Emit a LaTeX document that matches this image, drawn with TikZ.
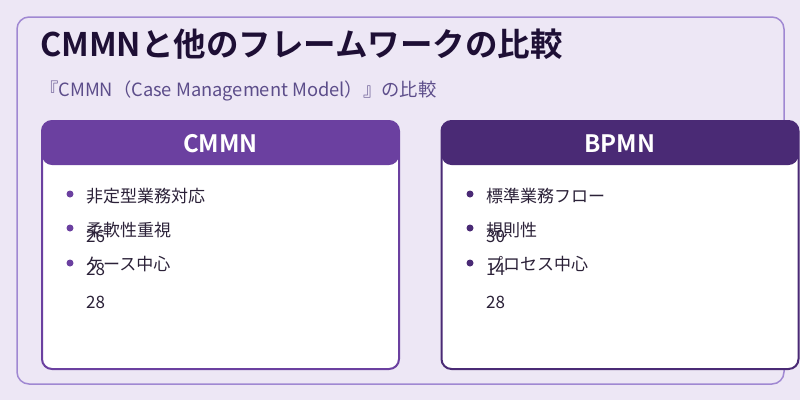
\documentclass[tikz,border=0pt]{standalone}
\usepackage{fontspec}
\setmainfont{Noto Sans CJK JP}[BoldFont={Noto Sans CJK JP Bold}]
\usetikzlibrary{positioning}
\definecolor{pagebg}{HTML}{EDE7F5}
\definecolor{framecol}{HTML}{A088D2}
\definecolor{titlecol}{HTML}{1E0F35}
\definecolor{subcol}{HTML}{5C4D8A}
\definecolor{itemcol}{HTML}{2B2138}
\definecolor{cmmncol}{HTML}{6B40A0}
\definecolor{bpmncol}{HTML}{4A2A75}

\begin{document}
\begin{tikzpicture}[
  x=1pt, y=-1pt,
  frame/.style={draw=framecol, line width=1.5pt, rounded corners=12pt, minimum width=767pt, minimum height=367pt, inner sep=0pt},
  card/.style={draw=#1, fill=white, line width=2pt, rounded corners=10pt, minimum width=357pt, minimum height=248pt, inner sep=0pt,
    path picture={\fill[#1] (path picture bounding box.north west) rectangle ([yshift=-44pt]path picture bounding box.north east);}},
  head/.style={text=white, inner sep=0pt, font=\bfseries\fontsize{24}{28}\selectfont},
  dot/.style={circle, fill=#1, inner sep=0pt, minimum size=7pt},
  item/.style={anchor=base west, inner sep=0pt, text=itemcol, font=\fontsize{17}{20}\selectfont}
]
\useasboundingbox[fill=pagebg] (0,0) rectangle (800,400);

\node[frame] (outer) at (400.5,200.5) {};
\node[anchor=base west, inner sep=0pt, text=titlecol, font=\bfseries\fontsize{32.5}{38}\selectfont] (title) at (40,56) {CMMNと他のフレームワークの比較};
\node[anchor=base west, inner sep=0pt, text=subcol, font=\fontsize{18.3}{21}\selectfont] (subtitle) at (40,96) {『CMMN（Case Management Model）』の比較};

% CMMN card
\node[card=cmmncol] (cmmn) at (220.5,245) {};
\node[head] (cmmnhead) at (220.5,144) {CMMN};
\node[dot=cmmncol] (cdot1) at (70,194) {};
\node[dot=cmmncol] (cdot2) at (70,228) {};
\node[dot=cmmncol] (cdot3) at (70,263) {};
\node[item] (citem1) at (86,202) {非定型業務対応};
\node[item] (citem2) at (86,236) {柔軟性重視};
\node[item] (citem3) at (86,270) {ケース中心};
\node[item] (cnum1) at (86,242) {26};
\node[item] (cnum2) at (86,275) {28};
\node[item] (cnum3) at (86,308) {28};

% BPMN card
\node[card=bpmncol] (bpmn) at (620,245) {};
\node[head] (bpmnhead) at (620,144) {BPMN};
\node[dot=bpmncol] (bdot1) at (470,194) {};
\node[dot=bpmncol] (bdot2) at (470,228) {};
\node[dot=bpmncol] (bdot3) at (470,263) {};
\node[item] (bitem1) at (486,202) {標準業務フロー};
\node[item] (bitem2) at (486,236) {規則性};
\node[item] (bitem3) at (486,270) {プロセス中心};
\node[item] (bnum1) at (486,242) {30};
\node[item] (bnum2) at (486,275) {14};
\node[item] (bnum3) at (486,308) {28};
\end{tikzpicture}
\end{document}
